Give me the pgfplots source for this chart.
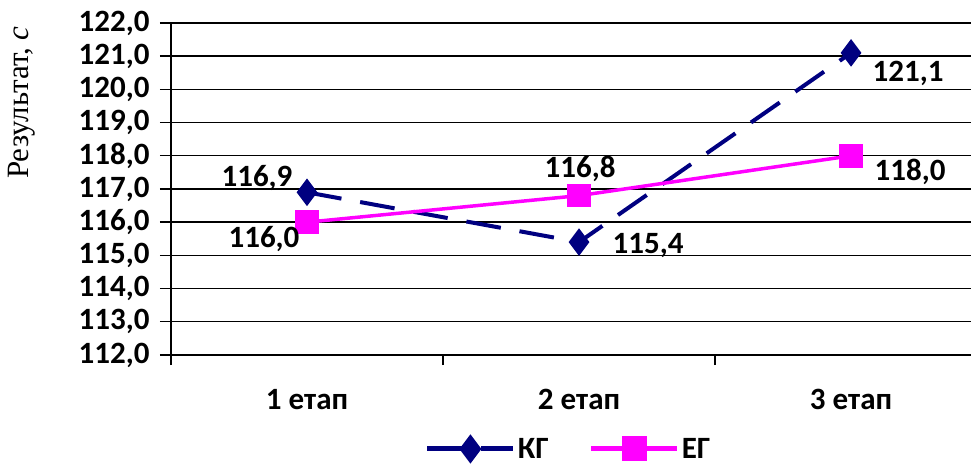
\documentclass[border=0pt]{standalone}
\usepackage{fontspec}
\setmainfont{Carlito}
\newfontfamily\serifcyr{Liberation Serif}
\usepackage{pgfplots}
\pgfplotsset{compat=1.18}
\definecolor{kg}{RGB}{0,0,128}
\definecolor{eg}{RGB}{255,0,255}
\pgfplotstableread{
x y l dx dy
0 116.9 116,9 -50 14
1 115.4 115,4 69 -3
2 121.1 121,1 57 -21
}\kgdata
\pgfplotstableread{
x y l dx dy
0 116.0 116,0 -43 -17
1 116.8 116,8 1 27
2 118.0 118,0 59 -16
}\egdata
\newcommand{\bigbf}{\fontsize{31}{32}\selectfont\bfseries}
\begin{document}
\begin{tikzpicture}[x=1pt,y=1pt]
\begin{axis}[
  at={(171pt,110pt)}, anchor=south west,
  scale only axis, width=800pt, height=332pt,
  xmin=-0.5, xmax=2.441, ymin=112, ymax=122,
  axis x line*=bottom, axis y line*=left,
  xtick={0,1,2}, xticklabels={1 етап,2 етап,3 етап},
  minor xtick={-0.5,0.5,1.5,2.5},
  major x tick style={draw=none},
  minor tick length=10pt,
  ytick={112,113,...,122}, major tick length=11pt, tick align=outside,
  ymajorgrids, grid style={black, line width=1.4pt},
  axis line style={black, line width=1.6pt},
  tick style={black, line width=1.4pt},
  ticklabel style={font=\bigbf},
  yticklabel style={/pgf/number format/fixed, /pgf/number format/fixed zerofill, /pgf/number format/precision=1, /pgf/number format/use comma, /pgf/number format/assume math mode=true, xshift=-7pt},
  xticklabel style={yshift=-20pt},
  ylabel={Результат, \textit{с}},
  ylabel style={font=\serifcyr\fontsize{31}{31}\selectfont, at={(axis description cs:-0.186,0.76)}, anchor=center},
  clip=false,
  legend style={at={(0.497,-0.283)}, anchor=center, draw=none, fill=none, legend columns=2, font=\bigbf,
    /tikz/every even column/.append style={column sep=38pt}},
  legend image code/.code={\draw[mark repeat=2,mark phase=2,#1,line width=5pt] plot coordinates {(0pt,0pt)(43pt,0pt)(86pt,0pt)};},
  nodes near coords, point meta=explicit symbolic,
  visualization depends on={\thisrow{dx} \as \dx},
  visualization depends on={\thisrow{dy} \as \dy},
  every node near coord/.append style={anchor=center, xshift=\dx pt, yshift=\dy pt, font=\bigbf, text=black},
]
\addplot[kg, line width=4pt, dash pattern=on 35pt off 19pt, mark=diamond*, mark size=10.5pt, mark options={solid}]
  table[x=x, y=y, meta=l] {\kgdata};
\addlegendentry{КГ}
\addplot[eg, line width=3.5pt, mark=square*, mark size=10pt, mark options={solid}]
  table[x=x, y=y, meta=l] {\egdata};
\addlegendentry{ЕГ}
\end{axis}
\pgfresetboundingbox
\path[use as bounding box] (0,0) rectangle (971,465);
\end{tikzpicture}
\end{document}
